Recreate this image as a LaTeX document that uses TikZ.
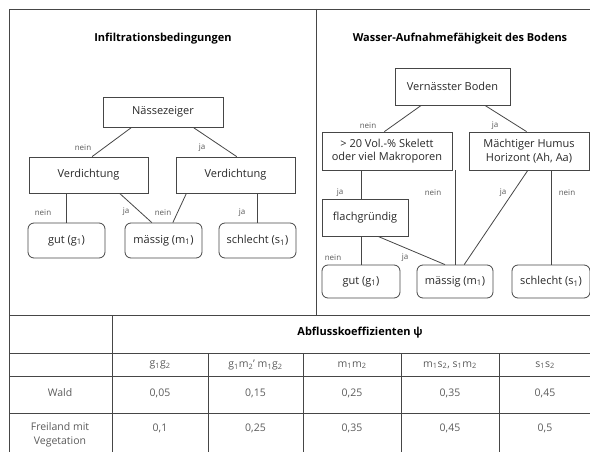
\documentclass[tikz,border=0pt]{standalone}
\usepackage{fontspec}
\setmainfont{Open Sans}
\usepackage{tikz}
\usetikzlibrary{calc}
\definecolor{lnDark}{RGB}{70,70,70}
\definecolor{txtDark}{RGB}{40,40,40}
\definecolor{txtGray}{RGB}{90,90,90}
\newcommand{\ix}[1]{\textsubscript{#1}}

\begin{document}
\begin{tikzpicture}[
    x=1pt, y=-1pt,
    box/.style={rectangle, draw=lnDark, line width=0.8pt, text=txtDark, align=center, inner sep=0pt, font=\fontsize{11}{13.5}\selectfont},
    leaf/.style={box, rounded corners=6pt, minimum width=77pt, minimum height=35pt},
    title/.style={font=\fontsize{11}{13}\selectfont\bfseries, text=black, inner sep=0pt},
    lbl/.style={font=\fontsize{8}{9}\selectfont, text=txtGray, inner sep=0pt},
    cell/.style={font=\fontsize{10.5}{14}\selectfont, text=txtGray, align=center, inner sep=0pt},
    link/.style={draw=lnDark, line width=0.8pt},
    grid/.style={draw=lnDark, line width=0.8pt}
]
\useasboundingbox (0,0) rectangle (590,452);

% Frame and dividers
\draw[grid] (590,9) -- (9,9) -- (9,452);
\draw[grid] (316,9) -- (316,315);
\foreach \ry in {315,353,376,413}
    \draw[grid] (9,\ry) -- (590,\ry);
\draw[grid] (112,315) -- (112,452);
\foreach \cx in {208,303,401,499}
    \draw[grid] (\cx,353) -- (\cx,452);

% Left: Infiltrationsbedingungen
\node[title] (titleL) at (163,39) {Infiltrationsbedingungen};

\node[box, minimum width=120pt, minimum height=30pt] (nass) at (163,112) {Nässezeiger};
\node[box, minimum width=119pt, minimum height=36pt] (verdL) at (88.5,175) {Verdichtung};
\node[box, minimum width=119pt, minimum height=36pt] (verdR) at (235.5,175) {Verdichtung};

\node[leaf] (gutL) at (66.5,240.5) {gut (g\ix{1})};
\node[leaf] (massL) at (163.5,240.5) {mässig (m\ix{1})};
\node[leaf] (schlL) at (257.5,240.5) {schlecht (s\ix{1})};

\draw[link] ($(nass.south west)!0.24!(nass.south east)$) -- ($(verdL.north west)!0.53!(verdL.north east)$);
\draw[link] ($(nass.south west)!0.75!(nass.south east)$) -- ($(verdR.north west)!0.51!(verdR.north east)$);
\draw[link] (gutL.north |- verdL.south) -- (gutL.north);
\draw[link] ($(verdL.south west)!0.76!(verdL.south east)$) -- ($(massL.north west)!0.35!(massL.north east)$);
\draw[link] ($(verdR.south west)!0.09!(verdR.south east)$) -- ($(massL.north west)!0.62!(massL.north east)$);
\draw[link] (schlL.north |- verdR.south) -- (schlL.north);

\node[lbl] (l1) at (83,148) {nein};
\node[lbl] (l2) at (202,148) {ja};
\node[lbl] (l3) at (43,213) {nein};
\node[lbl] (l4) at (126,212) {ja};
\node[lbl] (l5) at (163,213) {nein};
\node[lbl] (l6) at (242,213) {ja};

% Right: Wasser-Aufnahmefaehigkeit
\node[title] (titleR) at (460,39) {Wasser-Aufnahmefähigkeit des Bodens};

\node[box, minimum width=115pt, minimum height=37pt] (vern) at (452.5,86.5) {Vernässter Boden};
\node[box, minimum width=130pt, minimum height=38pt] (skel) at (387,151) {> 20 Vol.-\% Skelett\\oder viel Makroporen};
\node[box, minimum width=120pt, minimum height=38pt] (humus) at (529,151) {Mächtiger Humus\\Horizont (Ah, Aa)};
\node[box, minimum width=86pt, minimum height=37pt] (flach) at (365,217.5) {flachgründig};

\node[leaf, minimum width=78pt, minimum height=33pt] (gutR) at (361,281.5) {gut (g\ix{1})};
\node[leaf, minimum width=76pt, minimum height=33pt] (massR) at (455,281.5) {mässig (m\ix{1})};
\node[leaf, minimum width=78pt, minimum height=33pt] (schlR) at (551,281.5) {schlecht (s\ix{1})};

\draw[link] ($(vern.south west)!0.23!(vern.south east)$) -- ($(skel.north west)!0.48!(skel.north east)$);
\draw[link] ($(vern.south west)!0.78!(vern.south east)$) -- ($(humus.north west)!0.48!(humus.north east)$);
\draw[link] (gutR.north |- skel.south) -- (gutR.north |- flach.north);
\draw[link] (massR.north |- skel.south) -- (massR.north);
\draw[link] ($(humus.south west)!0.49!(humus.south east)$) -- ($(massR.north west)!0.62!(massR.north east)$);
\draw[link] (schlR.north |- humus.south) -- (schlR.north);
\draw[link] (gutR.north |- flach.south) -- (gutR.north);
\draw[link] ($(flach.south west)!0.65!(flach.south east)$) -- ($(massR.north west)!0.37!(massR.north east)$);

\node[lbl] (r1) at (368,126) {nein};
\node[lbl] (r2) at (495,126) {ja};
\node[lbl] (r3) at (340,193) {ja};
\node[lbl] (r4) at (433,193) {nein};
\node[lbl] (r5) at (503,193) {ja};
\node[lbl] (r6) at (567,193) {nein};
\node[lbl] (r7) at (333,258) {nein};
\node[lbl] (r8) at (405,258) {ja};

% Table
\node[title] (head) at (360,333) {Abflusskoeffizienten ψ};

\node[cell] (c1) at (160,365) {g\ix{1}g\ix{2}};
\node[cell] (c2) at (255.5,365) {g\ix{1}m\ix{2}’ m\ix{1}g\ix{2}};
\node[cell] (c3) at (352,365) {m\ix{1}m\ix{2}};
\node[cell] (c4) at (450,365) {m\ix{1}s\ix{2}, s\ix{1}m\ix{2}};
\node[cell] (c5) at (545,365) {s\ix{1}s\ix{2}};

\node[cell] (wald) at (60,393) {Wald};
\node[cell] (w1) at (160,393) {0,05};
\node[cell] (w2) at (255.5,393) {0,15};
\node[cell] (w3) at (352,393) {0,25};
\node[cell] (w4) at (450,393) {0,35};
\node[cell] (w5) at (545,393) {0,45};

\node[cell] (frei) at (60,435) {Freiland mit\\Vegetation};
\node[cell] (f1) at (160,428) {0,1};
\node[cell] (f2) at (255.5,428) {0,25};
\node[cell] (f3) at (352,428) {0,35};
\node[cell] (f4) at (450,428) {0,45};
\node[cell] (f5) at (545,428) {0,5};

\end{tikzpicture}
\end{document}
